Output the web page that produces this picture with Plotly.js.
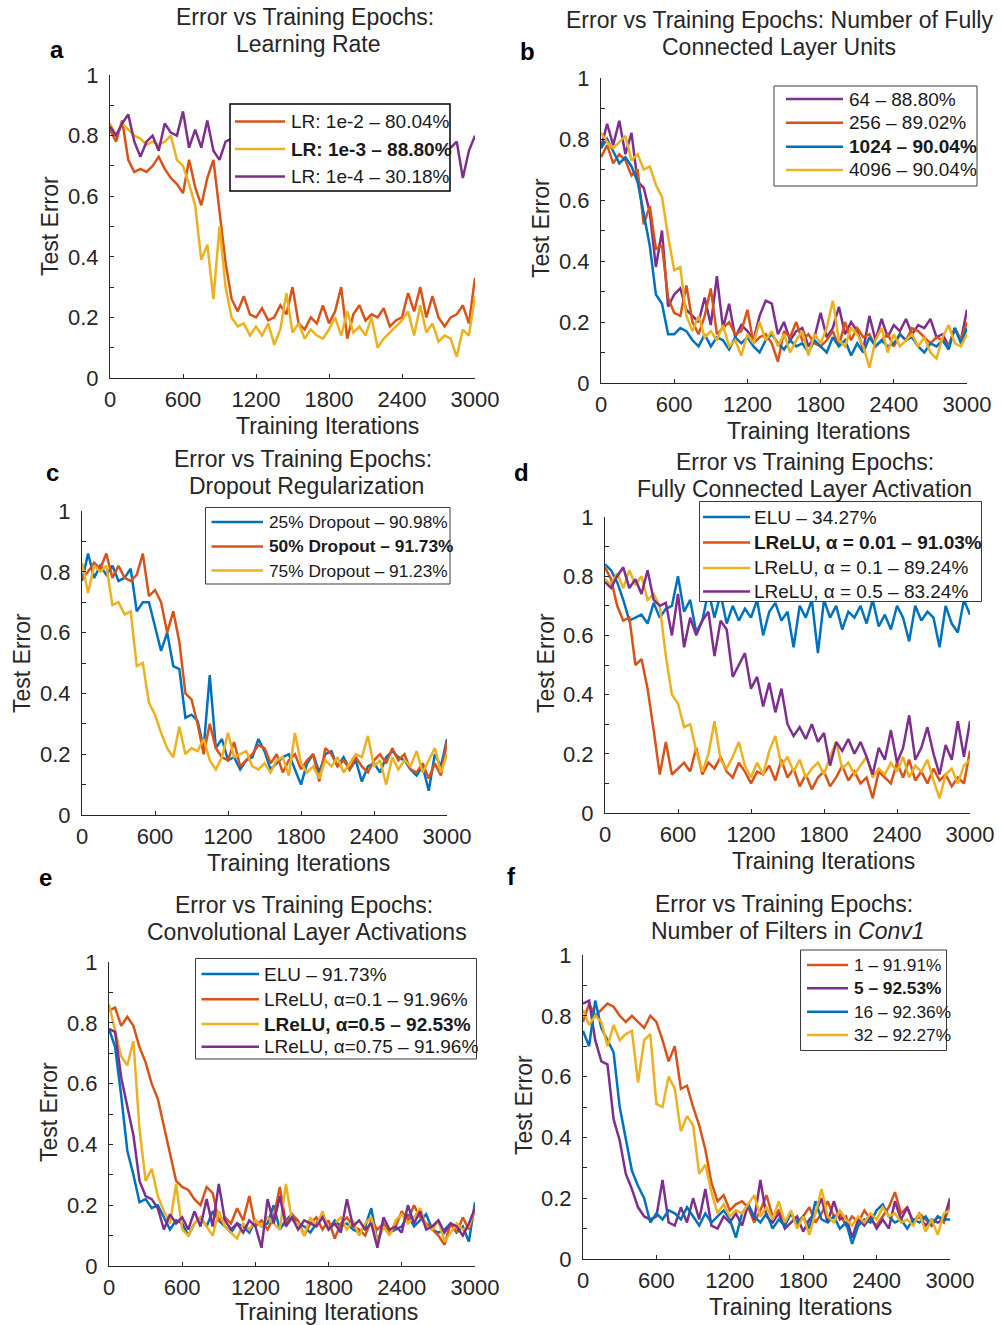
<!DOCTYPE html>
<html>
<head>
<meta charset="utf-8">
<script src="https://cdn.plot.ly/plotly-3.0.1.min.js"></script>
<style>
  html, body { margin: 0; padding: 0; background: #ffffff; }
  #chart { width: 1002px; height: 1325px; }
</style>
</head>
<body>
<div id="chart"></div>
<script>
// Test error recorded every 50 training iterations
const ITER = [0,50,100,150,200,250,300,350,400,450,500,550,600,650,700,750,800,850,900,950,
  1000,1050,1100,1150,1200,1250,1300,1350,1400,1450,1500,1550,1600,1650,1700,1750,1800,1850,1900,1950,
  2000,2050,2100,2150,2200,2250,2300,2350,2400,2450,2500,2550,2600,2650,2700,2750,2800,2850,2900,2950,3000];

// (a) learning rate
const lr_1e2 = [0.82,0.78,0.85,0.72,0.68,0.69,0.68,0.70,0.73,0.69,
  0.66,0.64,0.61,0.72,0.63,0.57,0.66,0.72,0.55,0.38,
  0.26,0.22,0.27,0.21,0.20,0.23,0.19,0.20,0.24,0.21,
  0.30,0.18,0.16,0.20,0.18,0.24,0.18,0.22,0.30,0.13,
  0.21,0.24,0.19,0.21,0.20,0.23,0.17,0.19,0.20,0.28,
  0.22,0.30,0.20,0.27,0.20,0.17,0.20,0.21,0.24,0.18,0.33];
const lr_1e3 = [0.84,0.80,0.84,0.82,0.80,0.79,0.77,0.78,0.77,0.78,
  0.80,0.72,0.70,0.64,0.57,0.39,0.44,0.26,0.50,0.30,
  0.20,0.17,0.18,0.14,0.17,0.14,0.18,0.11,0.16,0.28,
  0.15,0.18,0.13,0.16,0.14,0.13,0.16,0.20,0.14,0.22,
  0.15,0.17,0.14,0.20,0.10,0.13,0.15,0.17,0.19,0.22,
  0.14,0.24,0.15,0.18,0.12,0.14,0.13,0.07,0.16,0.14,0.27];
const lr_1e4 = [0.83,0.80,0.84,0.87,0.78,0.73,0.78,0.80,0.75,0.84,
  0.81,0.80,0.88,0.76,0.82,0.76,0.85,0.75,0.72,0.78,
  0.79,0.80,0.76,0.82,0.78,0.74,0.80,0.77,0.83,0.75,
  0.79,0.81,0.76,0.78,0.73,0.80,0.77,0.82,0.75,0.79,
  0.76,0.81,0.78,0.74,0.80,0.77,0.83,0.76,0.79,0.75,
  0.81,0.78,0.74,0.80,0.77,0.79,0.76,0.78,0.66,0.75,0.80];

// (b) fully connected layer units
const fc_64 = [0.77,0.85,0.78,0.86,0.75,0.82,0.66,0.64,0.56,0.38,
  0.50,0.25,0.29,0.31,0.24,0.22,0.20,0.28,0.19,0.35,
  0.18,0.26,0.15,0.19,0.17,0.14,0.22,0.27,0.26,0.16,
  0.20,0.14,0.17,0.18,0.12,0.15,0.23,0.15,0.18,0.25,
  0.16,0.20,0.17,0.11,0.22,0.14,0.21,0.15,0.19,0.17,
  0.21,0.16,0.19,0.18,0.21,0.15,0.16,0.12,0.18,0.14,0.24];
const fc_256 = [0.74,0.78,0.72,0.75,0.73,0.68,0.70,0.52,0.58,0.44,
  0.45,0.28,0.23,0.22,0.32,0.20,0.16,0.22,0.31,0.16,
  0.18,0.20,0.16,0.17,0.24,0.13,0.15,0.16,0.13,0.07,
  0.17,0.15,0.20,0.14,0.16,0.13,0.12,0.14,0.17,0.12,
  0.20,0.14,0.18,0.15,0.16,0.12,0.14,0.16,0.12,0.16,
  0.14,0.18,0.17,0.15,0.13,0.15,0.14,0.12,0.18,0.14,0.20];
const fc_1024 = [0.77,0.80,0.76,0.72,0.74,0.71,0.66,0.55,0.45,0.29,
  0.26,0.16,0.16,0.18,0.17,0.14,0.12,0.16,0.12,0.15,
  0.14,0.11,0.15,0.13,0.15,0.12,0.10,0.14,0.16,0.13,
  0.11,0.14,0.12,0.13,0.10,0.14,0.12,0.10,0.15,0.12,
  0.14,0.09,0.13,0.10,0.15,0.12,0.14,0.12,0.13,0.16,
  0.14,0.15,0.12,0.10,0.13,0.12,0.14,0.11,0.18,0.13,0.18];
const fc_4096 = [0.82,0.79,0.77,0.79,0.81,0.73,0.75,0.70,0.71,0.65,
  0.61,0.48,0.37,0.38,0.22,0.17,0.22,0.15,0.17,0.14,
  0.19,0.12,0.14,0.09,0.16,0.13,0.20,0.14,0.17,0.12,
  0.16,0.10,0.14,0.17,0.09,0.16,0.13,0.18,0.27,0.14,
  0.12,0.18,0.16,0.12,0.05,0.14,0.18,0.10,0.16,0.12,
  0.14,0.16,0.12,0.15,0.10,0.08,0.15,0.19,0.13,0.12,0.16];

// (c) dropout regularization
const do_25 = [0.77,0.86,0.78,0.82,0.79,0.82,0.77,0.78,0.81,0.67,
  0.70,0.70,0.62,0.54,0.60,0.49,0.48,0.32,0.33,0.31,
  0.22,0.46,0.22,0.25,0.18,0.19,0.15,0.18,0.19,0.25,
  0.21,0.15,0.17,0.19,0.20,0.15,0.10,0.17,0.20,0.14,
  0.20,0.21,0.16,0.19,0.15,0.18,0.11,0.16,0.17,0.14,
  0.19,0.21,0.19,0.18,0.15,0.13,0.16,0.08,0.20,0.16,0.25];
const do_50 = [0.78,0.80,0.83,0.81,0.86,0.78,0.82,0.78,0.77,0.79,
  0.86,0.72,0.74,0.70,0.60,0.67,0.57,0.40,0.38,0.30,
  0.20,0.30,0.22,0.19,0.18,0.24,0.16,0.18,0.20,0.23,
  0.22,0.17,0.20,0.14,0.18,0.20,0.15,0.18,0.20,0.11,
  0.22,0.20,0.16,0.18,0.15,0.19,0.16,0.14,0.18,0.20,
  0.17,0.22,0.18,0.20,0.15,0.14,0.17,0.12,0.17,0.13,0.24];
const do_75 = [0.83,0.73,0.82,0.80,0.82,0.69,0.70,0.66,0.67,0.49,
  0.50,0.37,0.33,0.27,0.22,0.19,0.29,0.20,0.22,0.21,
  0.25,0.18,0.15,0.19,0.27,0.19,0.20,0.21,0.16,0.15,
  0.17,0.14,0.18,0.19,0.13,0.27,0.17,0.14,0.16,0.12,
  0.18,0.16,0.19,0.14,0.17,0.20,0.19,0.26,0.16,0.18,
  0.10,0.19,0.15,0.18,0.16,0.21,0.14,0.18,0.22,0.14,0.20];

// (d) fully connected layer activation
const fa_elu = [0.84,0.82,0.78,0.72,0.65,0.66,0.67,0.64,0.71,0.66,
  0.69,0.70,0.80,0.68,0.72,0.61,0.65,0.75,0.66,0.74,
  0.64,0.70,0.65,0.69,0.66,0.72,0.60,0.68,0.71,0.65,
  0.68,0.56,0.70,0.66,0.72,0.54,0.72,0.66,0.70,0.62,
  0.68,0.66,0.70,0.64,0.72,0.63,0.67,0.62,0.70,0.66,
  0.58,0.70,0.65,0.68,0.66,0.56,0.70,0.64,0.61,0.72,0.67];
const fa_001 = [0.83,0.79,0.70,0.65,0.66,0.50,0.52,0.42,0.28,0.13,
  0.24,0.13,0.15,0.17,0.14,0.22,0.13,0.17,0.15,0.19,
  0.14,0.12,0.17,0.14,0.10,0.14,0.13,0.16,0.11,0.18,
  0.12,0.15,0.09,0.13,0.08,0.12,0.14,0.09,0.12,0.16,
  0.11,0.14,0.10,0.12,0.05,0.14,0.12,0.10,0.17,0.12,
  0.18,0.11,0.14,0.10,0.15,0.11,0.13,0.09,0.12,0.10,0.21];
const fa_01 = [0.79,0.77,0.81,0.76,0.82,0.77,0.80,0.72,0.74,0.70,
  0.53,0.40,0.37,0.29,0.30,0.21,0.14,0.20,0.31,0.18,
  0.15,0.19,0.24,0.16,0.12,0.17,0.13,0.21,0.26,0.16,
  0.19,0.14,0.18,0.12,0.15,0.17,0.13,0.19,0.24,0.15,
  0.17,0.13,0.16,0.19,0.12,0.15,0.13,0.17,0.14,0.19,
  0.12,0.16,0.14,0.18,0.11,0.05,0.13,0.15,0.10,0.16,0.18];
const fa_05 = [0.78,0.76,0.80,0.83,0.76,0.79,0.74,0.82,0.72,0.70,
  0.71,0.60,0.74,0.56,0.66,0.60,0.65,0.68,0.53,0.65,
  0.62,0.46,0.50,0.54,0.42,0.46,0.36,0.44,0.34,0.42,
  0.30,0.26,0.29,0.25,0.30,0.24,0.27,0.16,0.24,0.21,
  0.25,0.20,0.24,0.19,0.13,0.22,0.18,0.28,0.17,0.22,
  0.33,0.18,0.22,0.29,0.20,0.13,0.23,0.18,0.31,0.19,0.31];

// (e) convolutional layer activations
const ca_elu = [0.78,0.72,0.56,0.38,0.30,0.21,0.22,0.19,0.20,0.16,
  0.12,0.15,0.14,0.10,0.14,0.16,0.13,0.18,0.15,0.13,
  0.11,0.14,0.13,0.11,0.15,0.13,0.14,0.20,0.12,0.15,
  0.17,0.14,0.13,0.11,0.14,0.17,0.12,0.15,0.13,0.14,
  0.12,0.11,0.13,0.19,0.08,0.13,0.11,0.12,0.13,0.17,
  0.13,0.15,0.17,0.12,0.11,0.12,0.14,0.11,0.13,0.08,0.21];
const ca_01 = [0.84,0.85,0.79,0.82,0.79,0.72,0.67,0.60,0.55,0.46,
  0.38,0.28,0.26,0.25,0.22,0.20,0.26,0.24,0.15,0.16,
  0.14,0.19,0.15,0.23,0.13,0.15,0.12,0.16,0.26,0.14,
  0.17,0.15,0.10,0.14,0.16,0.12,0.15,0.09,0.14,0.16,
  0.13,0.12,0.10,0.15,0.12,0.14,0.11,0.13,0.18,0.15,
  0.20,0.16,0.14,0.12,0.10,0.07,0.14,0.11,0.16,0.12,0.19];
const ca_05 = [0.86,0.78,0.69,0.66,0.74,0.45,0.28,0.32,0.23,0.18,
  0.14,0.27,0.12,0.10,0.14,0.16,0.13,0.10,0.18,0.13,
  0.11,0.09,0.14,0.12,0.15,0.13,0.16,0.14,0.12,0.27,
  0.15,0.14,0.10,0.16,0.13,0.18,0.12,0.14,0.16,0.12,
  0.15,0.10,0.14,0.16,0.08,0.13,0.10,0.15,0.17,0.14,
  0.16,0.19,0.13,0.12,0.15,0.08,0.11,0.14,0.12,0.13,0.19];
const ca_075 = [0.78,0.77,0.62,0.52,0.43,0.28,0.23,0.22,0.19,0.12,
  0.17,0.14,0.16,0.12,0.18,0.13,0.22,0.13,0.27,0.15,
  0.12,0.14,0.11,0.15,0.13,0.06,0.22,0.14,0.23,0.13,
  0.16,0.12,0.15,0.14,0.13,0.16,0.12,0.14,0.11,0.22,
  0.13,0.15,0.12,0.14,0.06,0.16,0.12,0.13,0.11,0.20,
  0.14,0.18,0.12,0.13,0.15,0.11,0.14,0.13,0.10,0.14,0.19];

// (f) number of filters in Conv1
const nf_1 = [0.78,0.84,0.80,0.82,0.84,0.83,0.80,0.78,0.80,0.78,
  0.76,0.80,0.78,0.72,0.65,0.70,0.56,0.57,0.50,0.44,
  0.36,0.25,0.19,0.21,0.16,0.18,0.19,0.17,0.12,0.16,
  0.21,0.14,0.16,0.12,0.15,0.11,0.14,0.17,0.12,0.15,
  0.19,0.14,0.15,0.11,0.14,0.12,0.16,0.13,0.11,0.14,
  0.17,0.22,0.15,0.17,0.12,0.15,0.13,0.11,0.14,0.12,0.18];
const nf_5 = [0.84,0.85,0.72,0.65,0.64,0.46,0.39,0.28,0.23,0.17,
  0.14,0.13,0.14,0.26,0.12,0.11,0.17,0.12,0.20,0.13,
  0.23,0.11,0.10,0.14,0.12,0.15,0.11,0.18,0.13,0.26,
  0.14,0.12,0.15,0.10,0.12,0.14,0.09,0.13,0.15,0.20,
  0.12,0.19,0.13,0.14,0.07,0.13,0.11,0.14,0.10,0.13,
  0.10,0.19,0.13,0.17,0.12,0.14,0.11,0.13,0.12,0.13,0.20];
const nf_16 = [0.75,0.70,0.85,0.76,0.72,0.68,0.50,0.39,0.29,0.24,
  0.20,0.12,0.15,0.13,0.16,0.15,0.13,0.17,0.14,0.11,
  0.15,0.12,0.14,0.16,0.13,0.07,0.15,0.18,0.14,0.12,
  0.15,0.10,0.13,0.11,0.15,0.12,0.14,0.10,0.19,0.13,
  0.12,0.14,0.10,0.12,0.05,0.11,0.13,0.12,0.16,0.18,
  0.14,0.12,0.13,0.10,0.13,0.12,0.14,0.11,0.14,0.13,0.13];
const nf_32 = [0.82,0.77,0.80,0.78,0.70,0.77,0.72,0.74,0.75,0.58,
  0.72,0.74,0.51,0.50,0.60,0.56,0.42,0.47,0.44,0.28,
  0.31,0.22,0.15,0.18,0.14,0.16,0.15,0.18,0.21,0.14,
  0.17,0.13,0.19,0.12,0.16,0.10,0.14,0.08,0.15,0.23,
  0.14,0.12,0.16,0.13,0.11,0.14,0.12,0.15,0.13,0.17,
  0.14,0.15,0.12,0.13,0.11,0.15,0.09,0.13,0.08,0.15,0.16];

const X_TICKS = [0, 600, 1200, 1800, 2400, 3000];
const Y_TICKS = [0, 0.2, 0.4, 0.6, 0.8, 1];
const Y_TICK_TEXT = ['0', '0.2', '0.4', '0.6', '0.8', '1'];

const BLUE = '#0072BD', ORANGE = '#D95319', YELLOW = '#EDB120', PURPLE = '#7E2F8E';
const INK = '#262626';
const FONT = 'Liberation Sans, Arial, Helvetica, sans-serif';
const W = 1002, H = 1325;

// pixel boxes of each plotting area: [left, top, right, bottom]
const boxes = [
  [110, 75, 475, 378],
  [601, 78, 967, 383],
  [82, 511, 447, 815],
  [605, 517, 970, 813],
  [109, 962, 475, 1266],
  [583, 955, 950, 1259]
];

// legend placement: frame [l, t, r, b], key line span, text start, row centres, font size
const panels = [
  { leg: { box: [230, 104, 450, 191], border: '#000000', bw: 1.5, line: [235, 285], tx: 289, rows: [121.5, 149, 176.5], fs: 19 },
    series: [
    { y: lr_1e2, name: 'LR: 1e-2 – 80.04%', color: ORANGE },
    { y: lr_1e3, name: '<b>LR: 1e-3 – 88.80%</b>', color: YELLOW },
    { y: lr_1e4, name: 'LR: 1e-4 – 30.18%', color: PURPLE } ] },
  { leg: { box: [774, 86, 977, 186], border: '#3a3a3a', bw: 1, line: [786, 843], tx: 847, rows: [99, 122.7, 146.7, 170], fs: 19 },
    series: [
    { y: fc_64, name: '64 – 88.80%', color: PURPLE },
    { y: fc_256, name: '256 – 89.02%', color: ORANGE },
    { y: fc_1024, name: '<b>1024 – 90.04%</b>', color: BLUE },
    { y: fc_4096, name: '4096 – 90.04%', color: YELLOW } ] },
  { leg: { box: [205.5, 507.5, 450, 584], border: '#3a3a3a', bw: 1, line: [211.5, 263], tx: 267, rows: [522, 546.5, 570.5], fs: 17.3 },
    series: [
    { y: do_25, name: '25% Dropout – 90.98%', color: BLUE },
    { y: do_50, name: '<b>50% Dropout – 91.73%</b>', color: ORANGE },
    { y: do_75, name: '75% Dropout – 91.23%', color: YELLOW } ] },
  { leg: { box: [699.5, 501.5, 981.5, 601.5], border: '#3a3a3a', bw: 1, line: [703, 750], tx: 752, rows: [517, 542.5, 568, 591.5], fs: 19 },
    series: [
    { y: fa_elu, name: 'ELU – 34.27%', color: BLUE },
    { y: fa_001, name: '<b>LReLU, α = 0.01 – 91.03%</b>', color: ORANGE },
    { y: fa_01, name: 'LReLU, α = 0.1 – 89.24%', color: YELLOW },
    { y: fa_05, name: 'LReLU, α = 0.5 – 83.24%', color: PURPLE } ] },
  { leg: { box: [195.5, 958.5, 476.5, 1059], border: '#3a3a3a', bw: 1, line: [201.5, 259], tx: 261.5, rows: [974, 999.3, 1024, 1046.7], fs: 19 },
    series: [
    { y: ca_elu, name: 'ELU – 91.73%', color: BLUE },
    { y: ca_01, name: 'LReLU, α=0.1 – 91.96%', color: ORANGE },
    { y: ca_05, name: '<b>LReLU, α=0.5 – 92.53%</b>', color: YELLOW },
    { y: ca_075, name: 'LReLU, α=0.75 – 91.96%', color: PURPLE } ] },
  { leg: { box: [800.5, 950, 946.5, 1050.5], border: '#3a3a3a', bw: 1, line: [807, 848], tx: 851.5, rows: [965, 988.3, 1011.7, 1035], fs: 17.3 },
    series: [
    { y: nf_1, name: '1 – 91.91%', color: ORANGE },
    { y: nf_5, name: '<b>5 – 92.53%</b>', color: PURPLE },
    { y: nf_16, name: '16 – 92.36%', color: BLUE },
    { y: nf_32, name: '32 – 92.27%', color: YELLOW } ] }
];

const titles = [
  [['Error vs Training Epochs:', 305, 17], ['Learning Rate', 308, 44]],
  [['Error vs Training Epochs: Number of Fully', 779, 20], ['Connected Layer Units', 779, 47]],
  [['Error vs Training Epochs:', 303, 459], ['Dropout Regularization', 306, 486]],
  [['Error vs Training Epochs:', 805, 462], ['Fully Connected Layer Activation', 804, 489]],
  [['Error vs Training Epochs:', 304, 905], ['Convolutional Layer Activations', 307, 932]],
  [['Error vs Training Epochs:', 784, 904], ['Number of Filters in <i>Conv1</i>', 788, 931]]
];
const letters = [['a', 57, 50], ['b', 527, 52], ['c', 52, 473], ['d', 521, 472], ['e', 45, 877], ['f', 512, 876]];
const yTitles = [[50, 226], [541, 228], [22, 663], [546, 663], [49, 1112], [524, 1105]];
const xTitles = [[327, 426], [818, 431], [298, 863], [823, 861], [326, 1312], [800, 1307]];

const px = v => v / W;
const py = v => 1 - v / H;

function ann(text, x, y, size, extra) {
  return Object.assign({
    text: text, x: px(x), y: py(y), xref: 'paper', yref: 'paper',
    showarrow: false, xanchor: 'center', yanchor: 'middle',
    font: { family: FONT, size: size, color: INK }
  }, extra || {});
}

const traces = [];
const layout = {
  width: W, height: H,
  margin: { l: 0, r: 0, t: 0, b: 0 },
  paper_bgcolor: '#ffffff', plot_bgcolor: '#ffffff',
  showlegend: false,
  font: { family: FONT, color: INK },
  annotations: [],
  shapes: []
};

panels.forEach((p, k) => {
  const n = k + 1;
  const sfx = n === 1 ? '' : String(n);
  const [l, t, r, b] = boxes[k];

  p.series.forEach(s => {
    traces.push({
      type: 'scatter', mode: 'lines',
      x: ITER, y: s.y, name: s.name,
      xaxis: 'x' + sfx, yaxis: 'y' + sfx,
      showlegend: false,
      line: { color: s.color, width: 2.5 }
    });
  });

  layout['xaxis' + sfx] = {
    domain: [px(l), px(r)], anchor: 'y' + sfx,
    range: [0, 3000], showgrid: false, zeroline: false,
    showline: true, linecolor: INK, linewidth: 1,
    ticks: 'inside', ticklen: 4, tickcolor: INK,
    tickmode: 'array', tickvals: X_TICKS,
    tickfont: { family: FONT, size: 22, color: INK },
    ticklabelstandoff: 2
  };
  layout['yaxis' + sfx] = {
    domain: [py(b), py(t)], anchor: 'x' + sfx,
    range: [0, 1], showgrid: false, zeroline: false,
    showline: true, linecolor: INK, linewidth: 1,
    ticks: 'inside', ticklen: 4, tickcolor: INK,
    tickmode: 'array', tickvals: Y_TICKS, ticktext: Y_TICK_TEXT,
    minor: { dtick: 0.1, ticks: 'inside', ticklen: 4, tickcolor: INK, showgrid: false },
    tickfont: { family: FONT, size: 22, color: INK },
    ticklabelstandoff: 6
  };

  // legend frame, key lines and labels
  const g = p.leg;
  layout.shapes.push({
    type: 'rect', xref: 'paper', yref: 'paper', layer: 'above',
    x0: px(g.box[0]), x1: px(g.box[2]), y0: py(g.box[3]), y1: py(g.box[1]),
    fillcolor: '#ffffff', line: { color: g.border, width: g.bw }
  });
  p.series.forEach((s, i) => {
    layout.shapes.push({
      type: 'line', xref: 'paper', yref: 'paper', layer: 'above',
      x0: px(g.line[0]), x1: px(g.line[1]), y0: py(g.rows[i]), y1: py(g.rows[i]),
      line: { color: s.color, width: 2.5 }
    });
    layout.annotations.push(ann(s.name, g.tx, g.rows[i], g.fs,
      { xanchor: 'left', font: { family: FONT, size: g.fs, color: '#1a1a1a' } }));
  });

  titles[k].forEach(([txt, x, y]) => layout.annotations.push(ann(txt, x, y, 23)));
  const [lt, lx, ly] = letters[k];
  layout.annotations.push(ann('<b>' + lt + '</b>', lx, ly, 24, { font: { family: FONT, size: 24, color: '#000' } }));
  layout.annotations.push(ann('Test Error', yTitles[k][0], yTitles[k][1], 23, { textangle: -90 }));
  layout.annotations.push(ann('Training Iterations', xTitles[k][0], xTitles[k][1], 23));
});

Plotly.newPlot('chart', traces, layout, { staticPlot: true, displayModeBar: false });
</script>
</body>
</html>
